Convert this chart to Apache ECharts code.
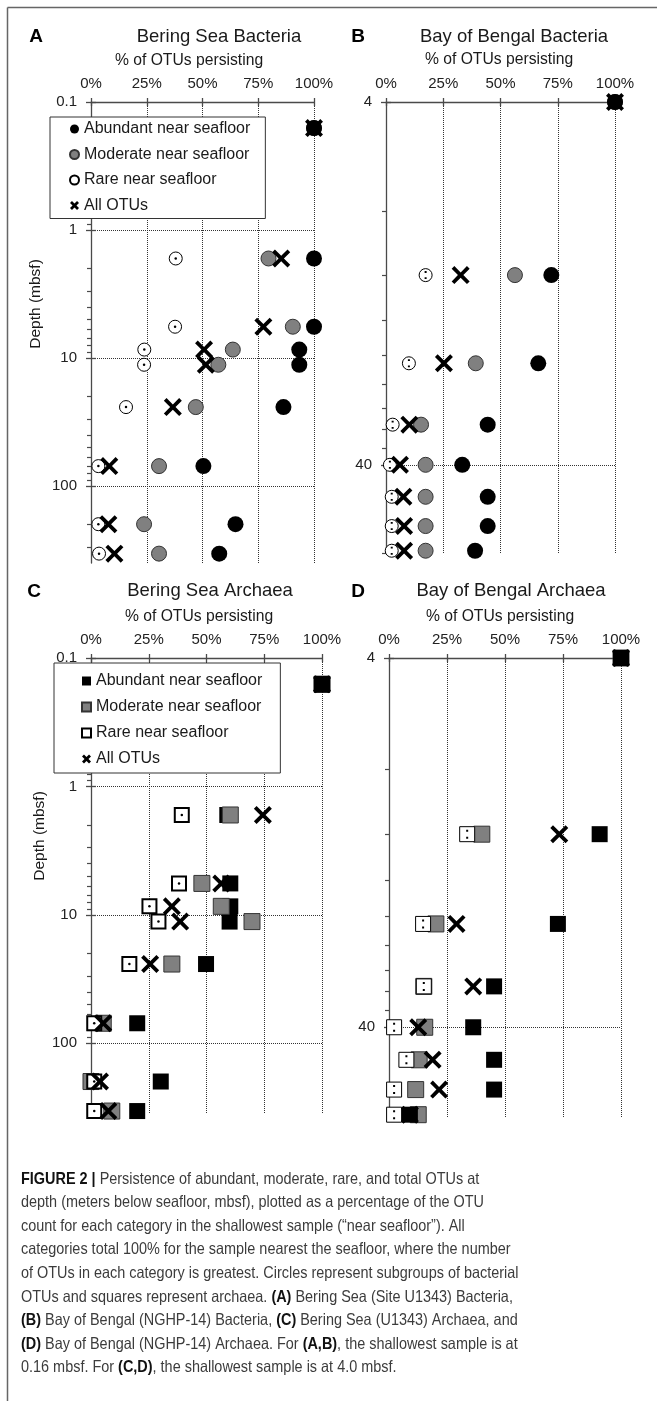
<!DOCTYPE html>
<html>
<head>
<meta charset="utf-8">
<title>Figure 2 - OTU persistence with depth</title>
<script src="https://cdn.jsdelivr.net/npm/echarts@6/dist/echarts.min.js"></script>
<style>
  html, body { margin: 0; padding: 0; background: #fff; }
  #chart { width: 657px; height: 1401px; }
</style>
</head>
<body>
<div id="chart"></div>
<script>
// sample depths (mbsf)
const beringDepths = [0.16, 1.67, 5.7, 8.6, 11.3, 24.2, 70, 199, 338];
const bengalDepths = [4, 12, 21, 31, 40, 49, 59, 69];

// % of OTUs persisting - A: Bering Sea Bacteria
const aAbundant = [100, 100, 100, 93.4, 93.4, 86.3, 50.4, 64.8, 57.5];
const aModerate = [100, 79.6, 90.5, 63.6, 57.1, 47, 30.5, 23.8, 30.5];
const aRare     = [100, 38, 37.7, 23.9, 23.8, 15.7, 3.3, 3.3, 3.6];
const aAll      = [100, 85.3, 77.3, 50.7, 51.5, 36.7, 8.2, 7.8, 10.5];

// B: Bay of Bengal Bacteria
const bAbundant = [100, 72.2, 66.5, 44.4, 33.3, 44.4, 44.4, 38.9];
const bModerate = [100, 56.3, 39.2, 15.3, 17.3, 17.3, 17.3, 17.3];
const bRare     = [100, 17.3, 10, 2.9, 1.7, 2.5, 2.5, 2.5];
const bAll      = [100, 32.6, 25.3, 10.2, 6.1, 7.6, 7.9, 7.9];

// C: Bering Sea Archaea
const cAbundant = [100, 59, 60.3, 60.3, 60, 49.8, 20, 30.2, 20];
const cModerate = [100, 60.3, 48, 56.4, 69.7, 35, 5.3, 0, 9];
const cRare     = [100, 39.3, 38.1, 25.3, 29.2, 16.6, 1.4, 1.4, 1.4];
const cAll      = [100, 74.4, 56.4, 35, 38.6, 25.6, 5.3, 3.9, 7.5];

// D: Bay of Bengal Archaea
const dAbundant = [100, 90.8, 72.8, 45.3, 36.3, 45.3, 45.3, 9];
const dModerate = [100, 40, 20.2, 15, 15.4, 13, 11.5, 12.6];
const dRare     = [100, 33.7, 14.7, 15, 2.2, 7.5, 2.2, 2.2];
const dAll      = [100, 73.4, 29.1, 36.3, 12.6, 18.8, 21.6, 9];

// axis ticks
const pctTicks = [0, 25, 50, 75, 100];
const beringMajor = [0.1, 1, 10, 100];
const bengalMajor = [4, 40];

const FONT = "'Liberation Sans', Arial, Helvetica, sans-serif";

const names = {
  abundant: 'Abundant near seafloor',
  moderate: 'Moderate near seafloor',
  rare: 'Rare near seafloor',
  all: 'All OTUs'
};

const X_PATH = 'path://M1.5,0 L5,3.5 L8.5,0 L10,1.5 L6.5,5 L10,8.5 L8.5,10 L5,6.5 L1.5,10 L0,8.5 L3.5,5 L0,1.5 Z';
const X_ICON = 'path://M2.2,0 L5,2.8 L7.8,0 L10,2.2 L7.2,5 L10,7.8 L7.8,10 L5,7.2 L2.2,10 L0,7.8 L2.8,5 L0,2.2 Z';
const TWO_DOTS = 'path://M0,0h2v2h-2z M0,7h2v2h-2z';

// minor ticks on the depth axes
function minorTicks(majors, max, steps) {
  const out = [];
  majors.forEach(m => steps.forEach(k => {
    const v = +(m * k).toPrecision(6);
    if (v < max) out.push(v);
  }));
  return out;
}

const panels = [
  {
    grid: { left: 91, top: 102, width: 223, height: 461 }, yMin: 0.1, yMax: 400,
    depths: beringDepths, majors: beringMajor, minors: minorTicks(beringMajor, 400, [2, 3, 4, 5, 6, 7, 8, 9]),
    shape: 'circle', dot: 'circle', dotSize: 2.5,
    values: { abundant: aAbundant, moderate: aModerate, rare: aRare, all: aAll },
    order: ['moderate', 'rare', 'abundant', 'all']
  },
  {
    grid: { left: 386, top: 102, width: 229, height: 451 }, yMin: 4, yMax: 70,
    depths: bengalDepths, majors: bengalMajor, minors: [8, 12, 16, 20, 24, 28, 32, 36, 69.9],
    shape: 'circle', dot: TWO_DOTS, dotSize: [2, 8],
    values: { abundant: bAbundant, moderate: bModerate, rare: bRare, all: bAll },
    order: ['moderate', 'rare', 'abundant', 'all']
  },
  {
    grid: { left: 91, top: 658, width: 231, height: 455 }, yMin: 0.1, yMax: 350,
    depths: beringDepths, majors: beringMajor, minors: minorTicks(beringMajor, 350, [2, 3, 4, 5, 6, 7, 8, 9]),
    shape: 'rect', dot: 'circle', dotSize: 2.5, rareBorder: 2,
    values: { abundant: cAbundant, moderate: cModerate, rare: cRare, all: cAll },
    // the shared 100% point is printed black on top in this panel
    order: ['abundant', 'moderate', 'rare', 'all'], topBlack: ['moderate', 'rare']
  },
  {
    grid: { left: 389, top: 658, width: 232, height: 459 }, yMin: 4, yMax: 70,
    depths: bengalDepths, majors: bengalMajor, minors: [8, 12, 16, 20, 24, 28, 32, 36],
    shape: 'rect', dot: TWO_DOTS, dotSize: [2, 9],
    values: { abundant: dAbundant, moderate: dModerate, rare: dRare, all: dAll },
    order: ['moderate', 'rare', 'abundant', 'all']
  }
];

const axisColor = '#4a4a4a';
const grids = [], xAxes = [], yAxes = [], series = [];

panels.forEach((p, pi) => {
  grids.push(p.grid);
  // x axis with labels (outer ticks) + overlay for inner ticks
  xAxes.push({
    type: 'value', gridIndex: pi, position: 'top', min: 0, max: 100, interval: 25,
    axisLine: { show: true, onZero: false, lineStyle: { color: axisColor, width: 1.3 } },
    axisTick: { show: true, length: 4, lineStyle: { color: axisColor, width: 1.3 } },
    axisLabel: { formatter: v => v + '%', fontSize: 15, fontFamily: FONT, color: '#222', margin: 11 },
    splitLine: { show: true, lineStyle: { type: 'dotted', color: '#333', width: 1 } }
  });
  xAxes.push({
    type: 'value', gridIndex: pi, position: 'top', min: 0, max: 100, interval: 25,
    axisLine: { show: false, onZero: false },
    axisTick: { show: true, inside: true, length: 4, lineStyle: { color: axisColor, width: 1.3 } },
    axisLabel: { show: false }, splitLine: { show: false }
  });
  const yBase = {
    type: 'log', logBase: 10, gridIndex: pi, position: 'left', inverse: true,
    min: p.yMin, max: p.yMax
  };
  yAxes.push(Object.assign({}, yBase, {
    axisLine: { show: true, onZero: false, lineStyle: { color: axisColor, width: 1.3 } },
    axisTick: { show: true, length: 5, customValues: p.majors, lineStyle: { color: axisColor, width: 1.3 } },
    axisLabel: {
      customValues: p.majors, formatter: v => String(+(+v).toPrecision(6)),
      fontSize: 15, fontFamily: FONT, color: '#222', margin: 14
    },
    splitLine: { show: true, lineStyle: { type: 'dotted', color: '#333', width: 1 } }
  }));
  yAxes.push(Object.assign({}, yBase, {
    axisLine: { show: false, onZero: false },
    axisTick: { show: true, length: 4, customValues: p.minors, lineStyle: { color: axisColor, width: 1.2 } },
    axisLabel: { show: false }, splitLine: { show: false }
  }));
  yAxes.push(Object.assign({}, yBase, {
    axisLine: { show: false, onZero: false },
    axisTick: { show: true, inside: true, length: 5, customValues: p.majors, lineStyle: { color: axisColor, width: 1.3 } },
    axisLabel: { show: false }, splitLine: { show: false }
  }));

  const isRect = p.shape === 'rect';
  const styles = {
    abundant: { color: '#000', opacity: 1 },
    moderate: { color: '#808080', borderColor: '#333', borderWidth: 1, opacity: 1 },
    rare: { color: '#fff', borderColor: '#000', borderWidth: p.rareBorder || 1, opacity: 1 },
    all: { color: '#000', opacity: 1 }
  };
  const sizes = isRect
    ? { abundant: 16, moderate: 16, rare: p.rareBorder ? 14 : 15, all: 18 }
    : { abundant: 16, moderate: 15, rare: 13, all: 18 };
  const topBlack = p.topBlack || [];

  p.order.forEach(cat => {
    const pts = p.values[cat].map((v, i) => [v, p.depths[i]]);
    const data = pts.map((pt, i) =>
      (i === 0 && topBlack.indexOf(cat) >= 0)
        ? { value: pt, itemStyle: { color: '#000', borderColor: '#000' } } : pt);
    series.push({
      type: 'scatter', name: names[cat], xAxisIndex: pi * 2, yAxisIndex: pi * 3,
      symbol: cat === 'all' ? X_PATH : p.shape, symbolKeepAspect: true,
      symbolSize: sizes[cat], itemStyle: styles[cat], data, clip: false, silent: true,
      emphasis: { disabled: true }
    });
    if (cat === 'rare') {
      series.push({
        type: 'scatter', name: 'rare-dot', xAxisIndex: pi * 2, yAxisIndex: pi * 3,
        symbol: p.dot, symbolSize: p.dotSize, itemStyle: { color: '#000', opacity: 1 },
        data: pts, clip: false, silent: true, emphasis: { disabled: true }
      });
    }
  });
});

function legendFor(icon, left, top, padding, gap) {
  return {
    orient: 'vertical', left, top, padding, itemGap: gap,
    itemWidth: 9, itemHeight: 9, selectedMode: false,
    borderColor: '#333', borderWidth: 1, backgroundColor: '#fff', z: 10,
    textStyle: { fontSize: 16, lineHeight: 16, fontFamily: FONT, color: '#1a1a1a' },
    data: [
      { name: names.abundant, icon },
      { name: names.moderate, icon },
      { name: names.rare, icon },
      { name: names.all, icon: X_ICON }
    ]
  };
}

function txt(x, y, text, size, opts) {
  opts = opts || {};
  return {
    type: 'text', x, y, rotation: opts.rotation || 0, silent: true, z: 100,
    style: {
      text, fontSize: size, fontFamily: FONT, fontWeight: opts.bold ? 'bold' : 'normal',
      fill: opts.color || '#1a1a1a',
      align: 'center', textAlign: 'center',
      verticalAlign: 'middle', textVerticalAlign: 'middle'
    }
  };
}

const captionLines = [
  [['b', 'FIGURE 2 | '], ['n', 'Persistence of abundant, moderate, rare, and total OTUs at']],
  [['n', 'depth (meters below seafloor, mbsf), plotted as a percentage of the OTU']],
  [['n', 'count for each category in the shallowest sample (\u201cnear seafloor\u201d). All']],
  [['n', 'categories total 100% for the sample nearest the seafloor, where the number']],
  [['n', 'of OTUs in each category is greatest. Circles represent subgroups of bacterial']],
  [['n', 'OTUs and squares represent archaea. '], ['b', '(A)'], ['n', ' Bering Sea (Site U1343) Bacteria,']],
  [['b', '(B)'], ['n', ' Bay of Bengal (NGHP-14) Bacteria, '], ['b', '(C)'], ['n', ' Bering Sea (U1343) Archaea, and']],
  [['b', '(D)'], ['n', ' Bay of Bengal (NGHP-14) Archaea. For '], ['b', '(A,B)'], ['n', ', the shallowest sample is at']],
  [['n', '0.16 mbsf. For '], ['b', '(C,D)'], ['n', ', the shallowest sample is at 4.0 mbsf.']]
];
const capSize = 16.5;
// the printed caption uses a condensed face; squeeze a regular one horizontally
const captionGraphics = captionLines.map((segs, i) => ({
  type: 'text', x: 21, y: 1179 + i * 23.6, scaleX: 0.875, silent: true,
  style: {
    text: segs.map(s => '{' + s[0] + '|' + s[1] + '}').join(''),
    align: 'left', textAlign: 'left', verticalAlign: 'middle', textVerticalAlign: 'middle',
    fontSize: capSize, fontFamily: FONT,
    rich: {
      b: { fontSize: capSize, fontFamily: FONT, fontWeight: 'bold', fill: '#111' },
      n: { fontSize: capSize, fontFamily: FONT, fill: '#3c3c3c' }
    }
  }
}));

const graphics = [
  { type: 'line', silent: true, shape: { x1: 7.5, y1: 7.5, x2: 657, y2: 7.5 }, style: { stroke: '#666', lineWidth: 1.5 } },
  { type: 'line', silent: true, shape: { x1: 7.5, y1: 7.5, x2: 7.5, y2: 1401 }, style: { stroke: '#666', lineWidth: 1.5 } },
  txt(36, 37, 'A', 19, { bold: true, color: '#000' }),
  txt(358, 37, 'B', 19, { bold: true, color: '#000' }),
  txt(34, 592, 'C', 19, { bold: true, color: '#000' }),
  txt(358, 592, 'D', 19, { bold: true, color: '#000' }),
  txt(219, 37, 'Bering Sea Bacteria', 18.5),
  txt(514, 37, 'Bay of Bengal Bacteria', 18.5),
  txt(210, 591, 'Bering Sea Archaea', 18.5),
  txt(511, 591, 'Bay of Bengal Archaea', 18.5),
  txt(189, 61, '% of OTUs persisting', 15.7),
  txt(499, 60, '% of OTUs persisting', 15.7),
  txt(199, 617, '% of OTUs persisting', 15.7),
  txt(500, 617, '% of OTUs persisting', 15.7),
  txt(36, 304, 'Depth (mbsf)', 15.5, { rotation: Math.PI / 2 }),
  txt(40, 836, 'Depth (mbsf)', 15.5, { rotation: Math.PI / 2 })
].concat(captionGraphics);

const chart = echarts.init(document.getElementById('chart'), null, { renderer: 'canvas' });
chart.setOption({
  animation: false,
  backgroundColor: '#fff',
  grid: grids,
  xAxis: xAxes,
  yAxis: yAxes,
  legend: [
    legendFor('circle', 50, 117, [4, 15, 5, 19], 9.5),
    legendFor('rect', 54, 663, [10, 18, 6, 27], 10)
  ],
  series,
  graphic: graphics
});
</script>
</body>
</html>
